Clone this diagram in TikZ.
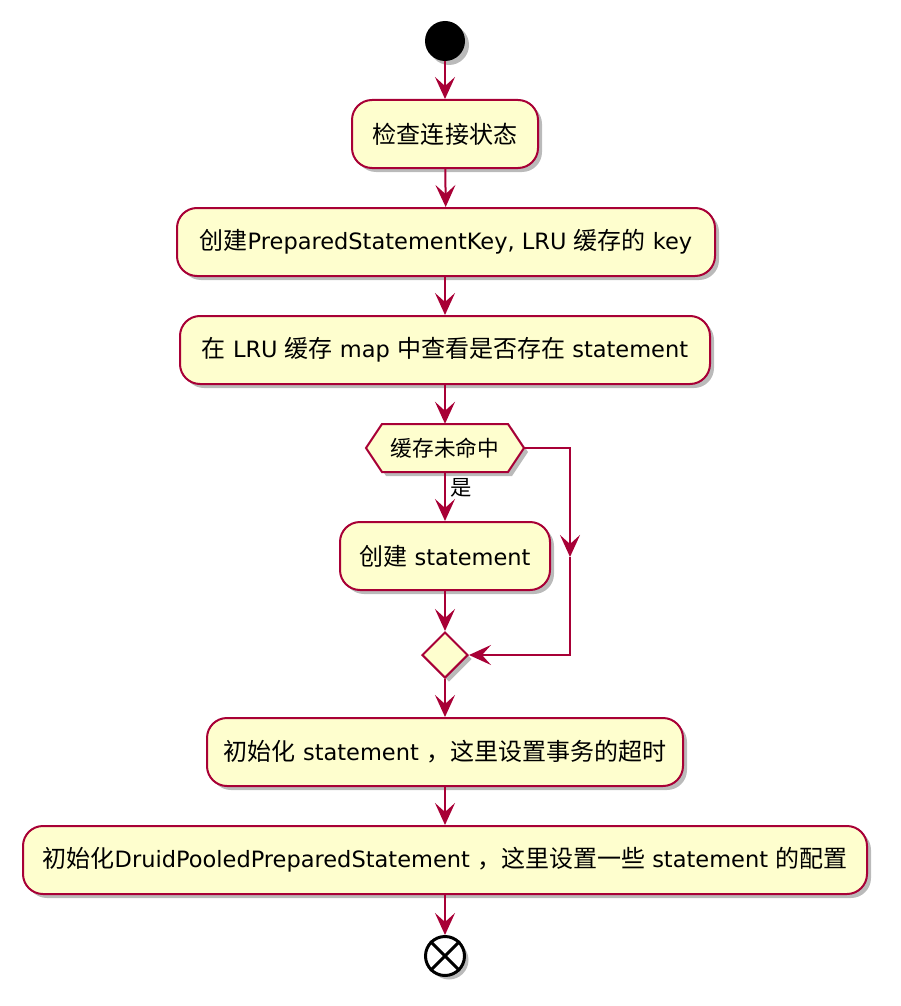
\documentclass[tikz,border=0pt]{standalone}
\usepackage{fontspec}
\setmainfont{DejaVu Sans}
\newfontfamily\cjk[Scale=1.067]{Noto Sans CJK SC}
\newcommand\zh[1]{{\cjk #1}}
\usetikzlibrary{arrows.meta,shadows,shapes.geometric}
\definecolor{bord}{HTML}{A80036}
\definecolor{fillc}{HTML}{FEFECE}
\tikzset{
  sh/.style={drop shadow={shadow xshift=4pt,shadow yshift=-4pt,opacity=0.45,fill=black!60}},
  act/.style={draw=bord,fill=fillc,line width=2pt,rounded corners=20pt,minimum height=68pt,inner sep=0pt,font=\fontsize{22.5}{26}\selectfont,sh},
  flow/.style={draw=bord,line width=2pt},
  arr/.style={flow,-{Stealth[length=22pt,width=20pt,inset=9pt]}},
  decbox/.style={draw=bord,fill=fillc,line width=2pt,sh},
}
\begin{document}
\begin{tikzpicture}[x=1pt,y=-1pt]
\useasboundingbox (0,0) rectangle (900,1006);
\node[circle,fill=black,minimum size=40pt,inner sep=0pt,sh] (start) at (445,41) {};
\node[act,minimum width=186pt] (b1) at (445,134) {\zh{检查连接状态}};
\node[act,minimum width=538pt] (b2) at (446,242) {\zh{创建}PreparedStatementKey, LRU \zh{缓存的} key};
\node[act,minimum width=530pt] (b3) at (445,350) {\zh{在} LRU \zh{缓存} map \zh{中查看是否存在} statement};
\draw[decbox] (366,448) -- (382,424) -- (508,424) -- (524,448) -- (508,472) -- (382,472) -- cycle;
\node[minimum width=158pt,minimum height=48pt,inner sep=0pt,font=\fontsize{20.3}{24}\selectfont] (dec) at (445,448) {\zh{缓存未命中}};
\node[act,minimum width=210pt] (b4) at (445,556) {\zh{创建} statement};
\node[diamond,decbox,minimum width=46pt,minimum height=46pt,inner sep=0pt] (merge) at (445,655) {};
\node[act,minimum width=476pt] (b5) at (445,752) {\zh{初始化} statement \zh{，这里设置事务的超时}};
\node[act,minimum width=844pt] (b6) at (445,860) {\zh{初始化}DruidPooledPreparedStatement \zh{，这里设置一些} statement \zh{的配置}};
\node[circle,draw=black,fill=white,line width=3pt,minimum size=39pt,inner sep=0pt,sh] (end) at (445,956) {};
\draw[black,line width=3pt] (end.45) -- (end.225) (end.135) -- (end.315);
\coordinate (rc) at (570,557);
\draw[arr] (start) -- (b1);
\draw[arr] (b1) -- (b2);
\draw[arr] (b2.south -| b3.north) -- (b3);
\draw[arr] (b3) -- (dec);
\draw[arr] (dec) -- node[right,pos=0.33,font=\fontsize{20}{22}\selectfont\cjk,inner sep=4pt] (yes) {是} (b4);
\draw[arr] (dec.east) -| (rc);
\draw[arr] (rc) |- (merge.east);
\draw[arr] (b4) -- (merge);
\draw[arr] (merge) -- (b5);
\draw[arr] (b5) -- (b6);
\draw[arr] (b6) -- (end);
\end{tikzpicture}
\end{document}
